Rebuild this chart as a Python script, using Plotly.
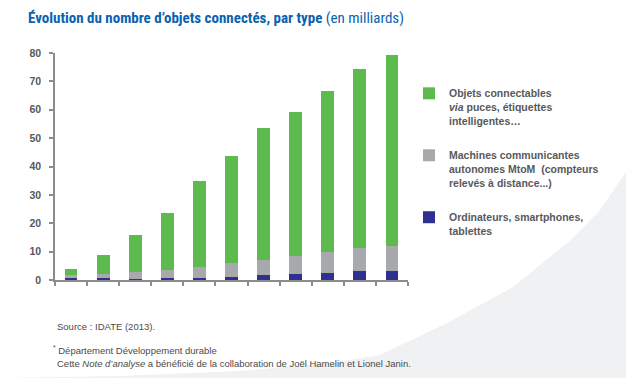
import plotly.graph_objects as go

years = [2010, 2011, 2012, 2013, 2014, 2015, 2016, 2017, 2018, 2019, 2020]
ordinateurs = [0.8, 0.8, 0.5, 0.8, 0.8, 1.05, 1.75, 2.1, 2.5, 3.3, 3.3]
machines = [1.0, 1.4, 2.4, 2.8, 3.8, 5.0, 5.4, 6.5, 7.5, 8.1, 8.8]
objets = [2.1, 6.6, 12.9, 20.0, 30.3, 37.6, 46.3, 50.6, 56.5, 62.9, 67.1]
year_labels = [2010, 2015, 2020]
y_ticks = [0, 10, 20, 30, 40, 50, 60, 70, 80]

names = [
    "<b>Ordinateurs, smartphones,<br>tablettes</b>",
    "<b>Machines communicantes<br>autonomes MtoM  (compteurs<br>relevés à distance...)</b>",
    "<b>Objets connectables<br><i>via</i> puces, étiquettes<br>intelligentes…</b>",
]
colors = ["#2E3192", "#A7A9AC", "#5DBB4D"]
ranks = [3, 2, 1]

W, H = 626, 378
L, R, T, B = 55, 218, 53, 98
PW, PH = W - L - R, H - T - B


def px(xp):
    return (xp - L) / PW


def py(yp):
    return (H - B - yp) / PH


fig = go.Figure()
for i, (vals, name, col, rk) in enumerate(zip([ordinateurs, machines, objets], names, colors, ranks)):
    fig.add_trace(go.Bar(
        x=years, y=vals, name=name, marker=dict(color=col, line=dict(width=0)),
        width=0.4, legendgroup=str(i), legendrank=rk, hoverinfo="y",
    ))

bounds = [y - 0.5 for y in years] + [years[-1] + 0.5]
xr = [years[0] - 0.5, years[-1] + 0.5]
axis_col = "#8C8C8C"
lab_font = dict(family="Liberation Sans, Arial, sans-serif", size=10.5, color="#58595B")

fig.update_layout(
    width=W, height=H,
    margin=dict(l=L, r=R, t=T, b=B, pad=0),
    paper_bgcolor="white", plot_bgcolor="rgba(0,0,0,0)",
    barmode="stack",
    showlegend=True,
    legend=dict(
        x=px(409), y=py(80), xanchor="left", yanchor="top",
        traceorder="grouped", tracegroupgap=18, valign="top",
        font=dict(family="Liberation Sans, Arial, sans-serif", size=10.5, color="#58595B"),
        bgcolor="rgba(0,0,0,0)",
    ),
    title=dict(
        text="<b>Évolution du nombre d’objets connectés, par type</b> (en milliards)",
        x=28 / W, xanchor="left", y=1 - 18 / H, yanchor="middle",
        font=dict(family="Liberation Sans Narrow, Arial Narrow, Roboto Condensed, Liberation Sans, sans-serif",
                  size=15, color="#0B62AF"),
    ),
    xaxis=dict(
        range=xr, tickmode="array", tickvals=bounds, showticklabels=False,
        ticks="outside", ticklen=4, tickcolor=axis_col, tickwidth=1.5,
        showline=True, linecolor=axis_col, linewidth=1.5, showgrid=False, zeroline=False,
    ),
    xaxis2=dict(
        range=xr, overlaying="x", anchor="y", side="bottom", tickmode="array", tickvals=bounds,
        showticklabels=False, ticks="inside", ticklen=3, tickcolor=axis_col, tickwidth=1.5,
        showline=False, showgrid=False, zeroline=False,
    ),
    xaxis3=dict(
        range=xr, overlaying="x", anchor="y", side="bottom", tickmode="array",
        tickvals=year_labels, ticktext=[f"<b>{y}</b>" for y in year_labels],
        ticks="outside", ticklen=13, tickcolor="rgba(0,0,0,0)",
        tickfont=lab_font, showline=False, showgrid=False, zeroline=False,
    ),
    yaxis=dict(
        range=[0, 80], tickmode="array", tickvals=y_ticks,
        ticktext=[f"<b>{v}</b>" for v in y_ticks], tickfont=lab_font,
        ticks="outside", ticklen=4, tickcolor=axis_col, tickwidth=1.5,
        ticklabelstandoff=6,
        showline=True, linecolor=axis_col, linewidth=1.5, showgrid=False, zeroline=False,
    ),
    bargap=0.6,
)

# decorative light-grey swoosh in the lower right background
pts = [(0, 378), (120, 376), (240, 371), (330, 363), (380, 355), (447, 323),
       (513, 287), (573, 238), (600, 210), (626, 172), (626, 378)]
path = "M " + " L ".join(f"{px(a):.4f},{py(b):.4f}" for a, b in pts) + " Z"
fig.add_shape(type="path", path=path, xref="paper", yref="paper",
              fillcolor="#F0F1F3", line=dict(width=0), layer="below")

foot_font = dict(family="Liberation Sans, Arial, sans-serif", size=9.5, color="#4A4A4A")
fig.add_annotation(text="Source : IDATE (2013).", x=px(55), y=py(326), xref="paper", yref="paper",
                   xanchor="left", yanchor="middle", showarrow=False, font=foot_font)
fig.add_annotation(text="<sup>*</sup> Département Développement durable", x=px(51), y=py(350),
                   xref="paper", yref="paper", xanchor="left", yanchor="middle", showarrow=False,
                   font=foot_font)
fig.add_annotation(text="Cette <i>Note d’analyse</i> a bénéficié de la collaboration de Joël Hamelin et Lionel Janin.",
                   x=px(55), y=py(363), xref="paper", yref="paper", xanchor="left", yanchor="middle",
                   showarrow=False, font=foot_font)

fig.write_html("out.html", config={"displayModeBar": False},
               post_script="document.body.style.margin='0';document.body.style.overflow='hidden';")
